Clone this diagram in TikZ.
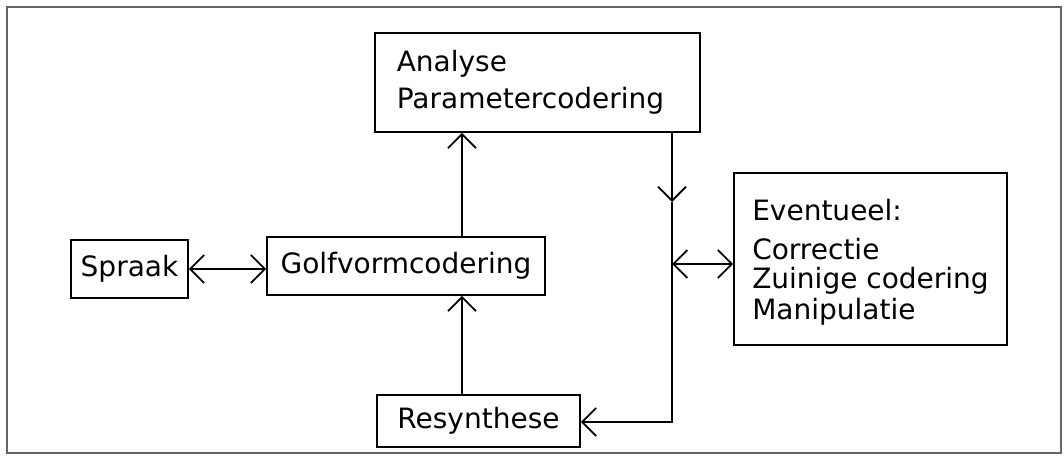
\documentclass[tikz,border=0pt]{standalone}
\usepackage{fontspec}
\setmainfont{DejaVu Sans}
\usetikzlibrary{arrows.meta}
\begin{document}
\begin{tikzpicture}[x=1pt,y=-1pt,
  box/.style={draw, line width=1.8pt, inner sep=0pt, font=\fontsize{28}{33}\selectfont, align=left},
  conn/.style={line width=1.8pt},
  barb/.tip={Straight Barb[length=14pt,width=28pt,line width=1.8pt]},
  tipend/.style={-barb},
  tipboth/.style={barb-barb}]
\useasboundingbox (0,0) rectangle (1064,457);
\draw[black!60, line width=1.1pt] (7,7) rectangle (1061,453);

\node[box, minimum width=117pt, minimum height=58pt] (spraak) at (129.5,269) {Spraak};
\node[box, minimum width=278pt, minimum height=58pt] (golf) at (406,266) {Golfvormcodering};
\node[box, minimum width=325pt, minimum height=99pt] (ana) at (537.5,82.5) {Analyse\\[4pt]Parametercodering\hspace*{14pt}};
\node[box, minimum width=273pt, minimum height=172pt] (ev) at (870.5,259) {\rule{0pt}{28pt}Eventueel:\\[6pt]Correctie\\[-4pt]Zuinige codering\\[-2pt]Manipulatie};
\node[box, minimum width=203pt, minimum height=52pt] (res) at (478.5,421) {Resynthese};

\coordinate (vx) at (462,0);
\coordinate (rx) at (672,0);
\coordinate (mid) at (672,202);
\coordinate (corner) at (672,422);
\coordinate (junc) at (672,264);

\draw[conn, tipboth] (spraak.east) -- (spraak.east -| golf.west);
\draw[conn, tipend] (golf.north -| vx) -- (ana.south -| vx);
\draw[conn, tipend] (res.north -| vx) -- (golf.south -| vx);
\draw[conn, tipend] (ana.south -| rx) -- (mid);
\draw[conn, tipend] (mid) -- (corner) -- (corner -| res.east);
\draw[conn, tipboth] (junc) -- (junc -| ev.west);
\end{tikzpicture}
\end{document}
